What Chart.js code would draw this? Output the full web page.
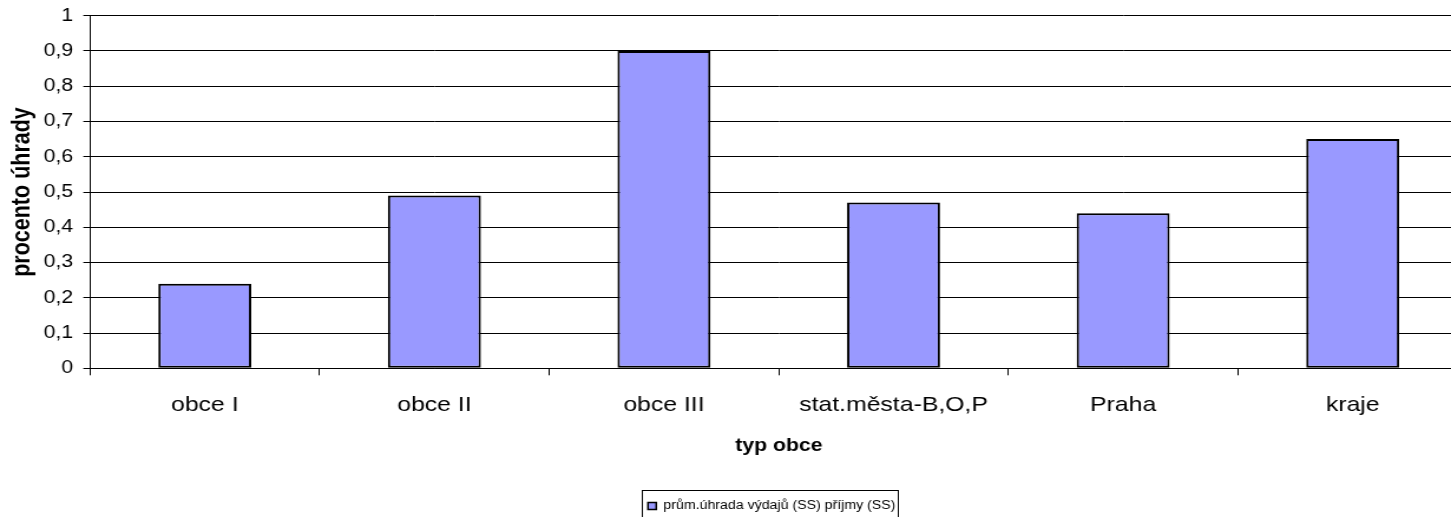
<!DOCTYPE html>
<html>
<head>
<meta charset="utf-8">
<script src="https://cdn.jsdelivr.net/npm/chart.js@4/dist/chart.umd.min.js"></script>
<style>
  html, body { margin: 0; padding: 0; background: #fff; overflow: hidden; width: 1451px; height: 517px; }
  #wrap { transform: scaleX(1.17967); transform-origin: 0 0; width: 1250px; height: 517px; }
  canvas { display: block; }
</style>
</head>
<body>
<div id="wrap"><canvas id="c" width="1250" height="517"></canvas></div>
<script>
const categories = ['obce I', 'obce II', 'obce III', 'stat.města-B,O,P', 'Praha', 'kraje'];
const values = [0.24, 0.49, 0.90, 0.47, 0.44, 0.65];
const seriesLabel = 'prům.úhrada výdajů (SS) příjmy (SS)';
const yTickLabels = ['0', '0,1', '0,2', '0,3', '0,4', '0,5', '0,6', '0,7', '0,8', '0,9', '1'];
const xTitle = 'typ obce';
const yTitle = 'procento úhrady';

Chart.defaults.font.family = "'Liberation Sans', Arial, sans-serif";
Chart.defaults.color = '#000';

// Frame drawn around the legend entry, and a small nudge of the legend block
const legendFrame = {
  id: 'legendFrame',
  afterLayout(chart) {
    const lg = chart.legend;
    lg.left -= 6;
    lg.right -= 6;
  },
  afterDraw(chart) {
    const hb = chart.legend.legendHitBoxes[0];
    if (!hb) return;
    const ctx = chart.ctx;
    ctx.save();
    ctx.strokeStyle = '#000';
    ctx.lineWidth = 1;
    const x0 = Math.round(hb.left - 5.7) + 0.5;
    const x1 = Math.round(hb.left + hb.width + 2) + 0.5;
    const y0 = Math.round(hb.top - 10) + 0.5;
    ctx.strokeRect(x0, y0, x1 - x0, chart.height + 5 - y0);
    ctx.restore();
  }
};

new Chart(document.getElementById('c'), {
  type: 'bar',
  data: {
    labels: categories,
    datasets: [{
      label: seriesLabel,
      data: values,
      backgroundColor: '#9999FF',
      borderColor: '#000',
      borderWidth: 2,
      borderSkipped: false,
      barPercentage: 0.405,
      categoryPercentage: 1
    }]
  },
  options: {
    responsive: false,
    animation: false,
    devicePixelRatio: 1,
    layout: { padding: { top: 15.7, right: 6, bottom: -5, left: 0 } },
    plugins: {
      tooltip: { enabled: false },
      legend: {
        position: 'bottom',
        fullSize: false,
        labels: {
          font: { size: 12 },
          color: '#000',
          boxWidth: 7,
          boxHeight: 7,
          padding: 5,
          generateLabels: (chart) =>
            Chart.defaults.plugins.legend.labels.generateLabels(chart).map(l => ({ ...l, lineWidth: 1.5 }))
        }
      }
    },
    scales: {
      x: {
        grid: { offset: true, drawOnChartArea: false, color: '#000', tickLength: 7 },
        border: { color: '#000' },
        ticks: { font: { size: 21 }, color: '#000', padding: 17, maxRotation: 0, autoSkip: false },
        title: { display: true, text: xTitle, font: { size: 18, weight: 'bold' }, color: '#000', padding: { top: 0, bottom: 38 } },
        afterFit: (s) => { s.height = 126.7; }
      },
      y: {
        min: 0,
        max: 1,
        ticks: { stepSize: 0.1, callback: (v, i) => yTickLabels[i], font: { size: 18 }, color: '#000', padding: 8.5 },
        grid: { color: '#000', tickLength: 5.7 },
        border: { color: '#000' },
        title: { display: true, text: yTitle, font: { size: 21.5, weight: 'bold' }, color: '#000', padding: { top: 6, bottom: 0 } },
        afterFit: (s) => { s.width = 76.3; s.paddingTop = 5; s.paddingBottom = 5; }
      }
    }
  },
  plugins: [legendFrame]
});
</script>
</body>
</html>
